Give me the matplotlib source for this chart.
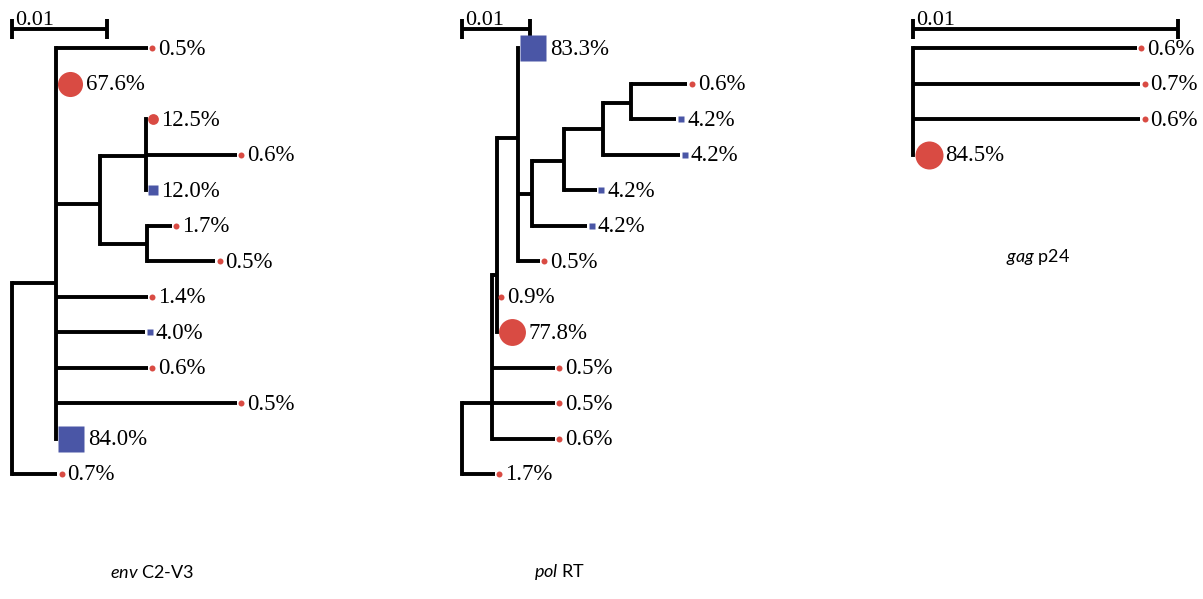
import numpy as np
import matplotlib
matplotlib.use("Agg")
import matplotlib.pyplot as plt
from matplotlib import transforms

# ---------------- data ----------------
# env C2-V3
env_node_names = ["root", "A", "B", "C", "D"]
env_node_parent = [None, "root", "A", "B", "B"]
env_node_len = [0.0, 0.00463, 0.00463, 0.00484, 0.00495]
env_node_row = [None, 6.63, 4.39, 3.04, 5.51]
env_leaf_pct = [0.5, 67.6, 12.5, 0.6, 12.0, 1.7, 0.5, 1.4, 4.0, 0.6, 0.5, 84.0, 0.7]
env_leaf_kind = ["o", "o", "o", "o", "s", "o", "o", "o", "s", "o", "o", "s", "o"]
env_leaf_parent = ["A", "A", "C", "C", "C", "D", "D", "A", "A", "A", "A", "A", "root"]
env_leaf_len = [0.00968, 0.0, 0.0, 0.00958, 0.0, 0.00263, 0.00716, 0.00968,
                0.00937, 0.00968, 0.01905, 0.0, 0.00474]

# pol RT
pol_node_names = ["root", "P", "Q", "R", "S", "T", "U", "V"]
pol_node_parent = [None, "root", "P", "Q", "R", "S", "T", "U"]
pol_node_len = [0.0, 0.0044, 0.0007, 0.0031, 0.0020, 0.0048, 0.0056, 0.0042]
pol_node_row = [None, 10.0, 6.4, 2.53, 4.1, 3.18, 2.28, 1.55]
pol_leaf_pct = [83.3, 0.6, 4.2, 4.2, 4.2, 4.2, 0.5, 0.9, 77.8, 0.5, 0.5, 0.6, 1.7]
pol_leaf_kind = ["s", "o", "s", "s", "s", "s", "o", "o", "o", "o", "o", "o", "o"]
pol_leaf_parent = ["R", "V", "V", "U", "T", "S", "R", "Q", "Q", "P", "P", "P", "root"]
pol_leaf_len = [0.0, 0.0082, 0.0066, 0.0113, 0.0047, 0.0081, 0.0032, 0.0, 0.0,
                0.0092, 0.0092, 0.0092, 0.0048]

# gag p24
gag_node_names = ["root"]
gag_node_parent = [None]
gag_node_len = [0.0]
gag_node_row = [None]
gag_leaf_pct = [0.6, 0.7, 0.6, 84.5]
gag_leaf_kind = ["o", "o", "o", "o"]
gag_leaf_parent = ["root", "root", "root", "root"]
gag_leaf_len = [0.00845, 0.00857, 0.00857, 0.0]

scale_value = 0.01
scale_label = "0.01"
titles = [r"$\mathit{env}$ C2-V3", r"$\mathit{pol}$ RT", r"$\mathit{gag}$ p24"]

# ---------------- layout ----------------
W, H = 1203, 599
DPI = 100
ROW0_PX = 48.0
ROW_STEP_PX = 35.5
panel_root_px = [12, 462, 913]
panel_px_per_unit = [95 / 0.01, 68.3 / 0.01, 265 / 0.01]
title_px = [(152, 572), (560, 572), (1038, 257)]
RED = "#d94b43"
BLUE = "#4a56a6"
LW = 2.8  # points

plt.rcParams["mathtext.fontset"] = "custom"
plt.rcParams["mathtext.it"] = "Lato:italic"
plt.rcParams["mathtext.rm"] = "Lato"

fig = plt.figure(figsize=(W / DPI, H / DPI), dpi=DPI)
fig.patch.set_facecolor("white")


def px_to_row(ypx):
    return (ypx - ROW0_PX) / ROW_STEP_PX


def draw_panel(k, names, parents, lens, rows, lpct, lkind, lparent, llen, title):
    ax = fig.add_axes([0, 0, 1, 1], facecolor="none")
    R = panel_root_px[k]
    s = panel_px_per_unit[k]
    ax.set_xlim(-R / s, (W - R) / s)
    ax.set_ylim(px_to_row(H), px_to_row(0))
    ax.axis("off")

    nx = {}
    nrow = {}
    for n, p, L, r in zip(names, parents, lens, rows):
        nx[n] = 0.0 if p is None else nx[p] + L
        nrow[n] = r
    child_rows = {n: [] for n in names}
    for n, p in zip(names, parents):
        if p is not None:
            child_rows[p].append(nrow[n])
    for i, p in enumerate(lparent):
        child_rows[p].append(i)

    for n in names:
        cr = child_rows[n]
        ax.plot([nx[n], nx[n]], [min(cr), max(cr)], color="black", lw=LW,
                solid_capstyle="projecting")
    for n, p in zip(names, parents):
        if p is not None and nx[n] > nx[p]:
            ax.plot([nx[p], nx[n]], [nrow[n], nrow[n]], color="black", lw=LW,
                    solid_capstyle="butt")
    for i, (pct, kind, p, L) in enumerate(zip(lpct, lkind, lparent, llen)):
        tip = nx[p] + L
        if L > 0:
            ax.plot([nx[p], tip], [i, i], color="black", lw=LW, solid_capstyle="butt")
        d = max(6.0, 3.05 * np.sqrt(pct))
        off = 1.5 + d / 2
        tr = transforms.offset_copy(ax.transData, fig=fig, x=off, y=0, units="dots")
        color = RED if kind == "o" else BLUE
        ms = d * 72 / DPI
        if kind == "s":
            ms = ms * 0.95
        ax.plot([tip], [i], marker=kind, ms=ms, color=color, mec="none",
                transform=tr, zorder=3)
        trt = transforms.offset_copy(ax.transData, fig=fig, x=1.5 + d + 3, y=-1,
                                     units="dots")
        ax.text(tip, i, f"{pct:.1f}%", transform=trt, ha="left", va="center",
                fontsize=16.5, family="Liberation Serif", color="black")

    ybar = px_to_row(29)
    tick = 10 / ROW_STEP_PX
    ax.plot([0, scale_value], [ybar, ybar], color="black", lw=LW, solid_capstyle="butt")
    for xv in (0, scale_value):
        ax.plot([xv, xv], [ybar - tick, ybar + tick], color="black", lw=LW,
                solid_capstyle="butt")
    trs = transforms.offset_copy(ax.transData, fig=fig, x=3, y=0, units="dots")
    ax.text(0, px_to_row(25), scale_label, transform=trs, ha="left", va="baseline",
            fontsize=16, family="Liberation Serif")

    tx, ty = title_px[k]
    fig.text(tx / W, 1 - ty / H, title, ha="center", va="center", fontsize=13,
             family="Lato")


draw_panel(0, env_node_names, env_node_parent, env_node_len, env_node_row,
           env_leaf_pct, env_leaf_kind, env_leaf_parent, env_leaf_len, titles[0])
draw_panel(1, pol_node_names, pol_node_parent, pol_node_len, pol_node_row,
           pol_leaf_pct, pol_leaf_kind, pol_leaf_parent, pol_leaf_len, titles[1])
draw_panel(2, gag_node_names, gag_node_parent, gag_node_len, gag_node_row,
           gag_leaf_pct, gag_leaf_kind, gag_leaf_parent, gag_leaf_len, titles[2])

fig.savefig("out.png", dpi=DPI, facecolor="white")
